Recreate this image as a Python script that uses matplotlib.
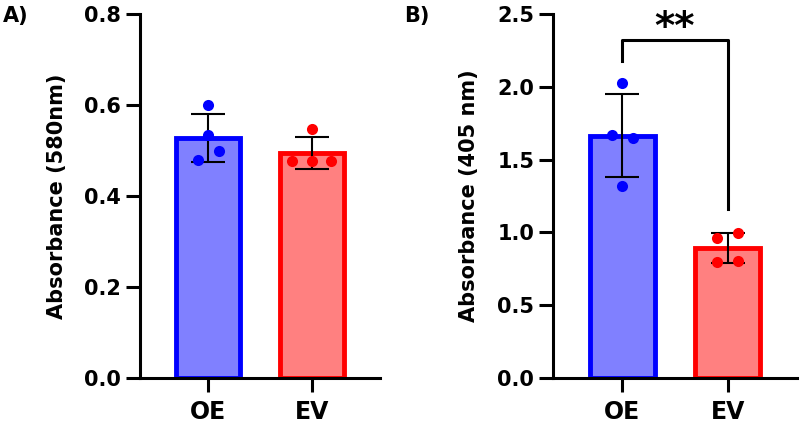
import numpy as np
import matplotlib.pyplot as plt

plt.rcParams['font.family'] = ['DejaVu Sans']
plt.rcParams['font.weight'] = 'bold'

# groups and replicate values
groups = ['OE', 'EV']
oe_580 = [0.599, 0.535, 0.498, 0.480]
ev_580 = [0.547, 0.477, 0.477, 0.477]
oe_405 = [2.025, 1.667, 1.646, 1.322]
ev_405 = [0.964, 0.999, 0.800, 0.806]

ticks_a = [0.0, 0.2, 0.4, 0.6, 0.8]
ticks_b = [0.0, 0.5, 1.0, 1.5, 2.0, 2.5]

# horizontal scatter of the dots inside each bar (style only)
jit_a = [[0, 0, 0.1, -0.1], [0, -0.19, 0, 0.19]]
jit_b = [[0, -0.1, 0.1, 0], [-0.1, 0.1, -0.1, 0.1]]

edges = ['#0000ff', '#ff0000']
fills = ['#8080ff', '#ff8080']


def draw_panel(ax, data, jitter, yticks, ylabel, label_x):
    for i, vals in enumerate(data):
        mean = np.mean(vals)
        sd = np.std(vals, ddof=1)
        ax.bar(i, mean, width=0.62, color=fills[i], edgecolor=edges[i],
               linewidth=3.5, zorder=1)
        ax.errorbar(i, mean, yerr=sd, color='black', lw=1.5, capsize=12.5,
                    capthick=1.5, zorder=2)
        ax.plot(i + np.array(jitter[i]), vals, 'o', color=edges[i], ms=8,
                mec='none', zorder=3, clip_on=False)

    ax.set_xlim(-0.66, 1.66)
    ax.set_ylim(yticks[0], yticks[-1])
    ax.set_yticks(yticks)
    ax.set_yticklabels(['%.1f' % t for t in yticks])
    ax.set_xticks(range(len(groups)))
    ax.set_xticklabels(groups)
    for s in ['top', 'right']:
        ax.spines[s].set_visible(False)
    for s in ['left', 'bottom']:
        ax.spines[s].set_linewidth(2.2)
    ax.tick_params(axis='y', length=10, width=2.2, pad=3.5, labelsize=15)
    ax.tick_params(axis='x', length=10, width=2.2, pad=6, labelsize=17)
    ax.set_ylabel(ylabel, fontsize=15, fontweight='bold')
    ax.yaxis.set_label_coords(label_x, 0.5)


fig = plt.figure(figsize=(8, 4.25), dpi=100)
ax1 = fig.add_axes([0.175, 0.1106, 0.3, 0.8565])
ax2 = fig.add_axes([0.69125, 0.1106, 0.305, 0.8565])

draw_panel(ax1, [oe_580, ev_580], jit_a, ticks_a, 'Absorbance (580nm)', -0.305)
draw_panel(ax2, [oe_405, ev_405], jit_b, ticks_b, 'Absorbance (405 nm)', -0.305)

# significance bracket
ax2.plot([0, 0, 1, 1], [2.18, 2.32, 2.32, 1.16], color='black', lw=2.2,
         clip_on=False, zorder=4)
ax2.text(0.5, 2.325, '**', ha='center', va='baseline', fontsize=28,
         fontweight='bold', clip_on=False)

fig.text(0.003, 0.948, 'A)', fontsize=15, fontweight='bold', va='baseline')
fig.text(0.505, 0.948, 'B)', fontsize=15, fontweight='bold', va='baseline')

fig.savefig('out.png', dpi=100)
